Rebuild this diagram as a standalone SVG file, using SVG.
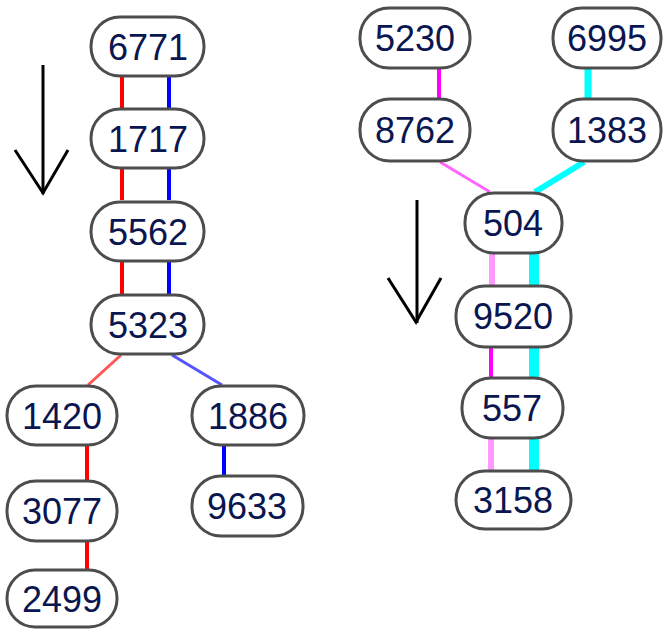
<svg xmlns="http://www.w3.org/2000/svg" width="663" height="629" viewBox="0 0 663 629">
<style>
.n rect{fill:#fff;stroke:#4d4d4d;stroke-width:3}
.n text{font-family:"Liberation Sans",Arial,sans-serif;font-size:36px;fill:#0a1650;text-anchor:middle;dominant-baseline:central}
.e{fill:none}
.arr{stroke:#000;stroke-width:3;fill:none}
</style>
<rect width="663" height="629" fill="#fff"/>
<g id="connectors">
<line class="e" x1="122" y1="76" x2="122" y2="108" stroke="#f00" stroke-width="4"/>
<line class="e" x1="169" y1="76" x2="169" y2="108" stroke="#00f" stroke-width="4"/>
<line class="e" x1="122" y1="168" x2="122" y2="200" stroke="#f00" stroke-width="4"/>
<line class="e" x1="169" y1="168" x2="169" y2="200" stroke="#00f" stroke-width="4"/>
<line class="e" x1="122" y1="262" x2="122" y2="294" stroke="#f00" stroke-width="4"/>
<line class="e" x1="169" y1="262" x2="169" y2="294" stroke="#00f" stroke-width="4"/>
<line class="e" x1="121" y1="355" x2="88" y2="385" stroke="#f55" stroke-width="3"/>
<line class="e" x1="172" y1="355" x2="222" y2="385" stroke="#55f" stroke-width="3"/>
<line class="e" x1="87" y1="445" x2="87" y2="480" stroke="#f00" stroke-width="4"/>
<line class="e" x1="87" y1="542" x2="87" y2="569" stroke="#f00" stroke-width="4"/>
<line class="e" x1="224" y1="445" x2="224" y2="475" stroke="#00f" stroke-width="4"/>
<line class="e" x1="439" y1="68" x2="439" y2="98" stroke="#f0f" stroke-width="4"/>
<line class="e" x1="588" y1="68" x2="588" y2="98" stroke="#0ff" stroke-width="7"/>
<line class="e" x1="440" y1="162" x2="490" y2="192" stroke="#f6f" stroke-width="3"/>
<line class="e" x1="584" y1="162" x2="535" y2="192" stroke="#0ff" stroke-width="6"/>
<line class="e" x1="492" y1="253" x2="492" y2="285" stroke="#f9f" stroke-width="6"/>
<line class="e" x1="534" y1="253" x2="534" y2="285" stroke="#0ff" stroke-width="10"/>
<line class="e" x1="491" y1="347" x2="491" y2="377" stroke="#f0f" stroke-width="4"/>
<line class="e" x1="534" y1="347" x2="534" y2="377" stroke="#0ff" stroke-width="10"/>
<line class="e" x1="491" y1="438" x2="491" y2="470" stroke="#f9f" stroke-width="6"/>
<line class="e" x1="534" y1="438" x2="534" y2="470" stroke="#0ff" stroke-width="10"/>
</g>
<g id="arrow-left">
<line class="arr" x1="43" y1="65" x2="43" y2="194"/>
<polyline class="arr" points="15,150 43,193 68,150"/>
</g>
<g id="arrow-right">
<line class="arr" x1="417" y1="200" x2="417" y2="323"/>
<polyline class="arr" points="388,278 416,322 441,278"/>
</g>
<g id="n6771" class="n"><rect x="91" y="17" width="113" height="59" rx="29"/><text x="148" y="47">6771</text></g>
<g id="n1717" class="n"><rect x="91" y="109" width="113" height="59" rx="29"/><text x="148" y="139">1717</text></g>
<g id="n5562" class="n"><rect x="91" y="202" width="113" height="59" rx="29"/><text x="148" y="232">5562</text></g>
<g id="n5323" class="n"><rect x="91" y="295" width="113" height="59" rx="29"/><text x="148" y="325">5323</text></g>
<g id="n1420" class="n"><rect x="7" y="386" width="110" height="59" rx="29"/><text x="62" y="416">1420</text></g>
<g id="n3077" class="n"><rect x="7" y="481" width="110" height="60" rx="29"/><text x="62" y="511">3077</text></g>
<g id="n2499" class="n"><rect x="7" y="570" width="110" height="57" rx="28"/><text x="62" y="599">2499</text></g>
<g id="n1886" class="n"><rect x="192" y="386" width="112" height="59" rx="29"/><text x="248" y="416">1886</text></g>
<g id="n9633" class="n"><rect x="192" y="476" width="111" height="60" rx="29"/><text x="247" y="506">9633</text></g>
<g id="n5230" class="n"><rect x="360" y="8" width="110" height="60" rx="29"/><text x="415" y="38">5230</text></g>
<g id="n6995" class="n"><rect x="553" y="8" width="108" height="60" rx="29"/><text x="607" y="38">6995</text></g>
<g id="n8762" class="n"><rect x="360" y="99" width="110" height="62" rx="30"/><text x="415" y="130">8762</text></g>
<g id="n1383" class="n"><rect x="553" y="99" width="108" height="62" rx="30"/><text x="607" y="130">1383</text></g>
<g id="n504" class="n"><rect x="465" y="193" width="97" height="60" rx="29"/><text x="513" y="223">504</text></g>
<g id="n9520" class="n"><rect x="456" y="286" width="115" height="61" rx="29"/><text x="513" y="316">9520</text></g>
<g id="n557" class="n"><rect x="462" y="378" width="101" height="60" rx="29"/><text x="512" y="408">557</text></g>
<g id="n3158" class="n"><rect x="456" y="471" width="115" height="58" rx="29"/><text x="513" y="500">3158</text></g>
</svg>
